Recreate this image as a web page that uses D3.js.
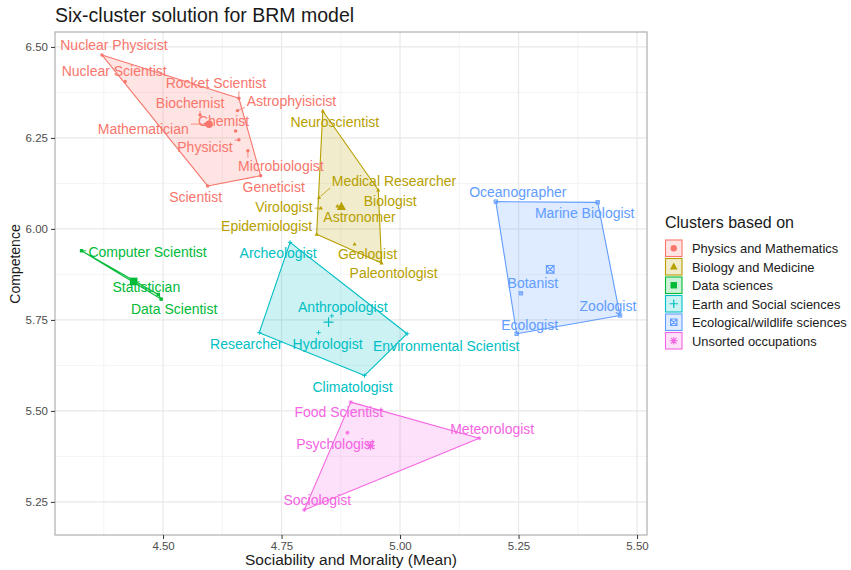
<!DOCTYPE html>
<html>
<head>
<meta charset="utf-8">
<script src="https://cdn.jsdelivr.net/npm/d3@7"></script>
<style>
  body { margin: 0; background: #fff; }
  svg { font-family: "Liberation Sans", Arial, sans-serif; }
</style>
</head>
<body>
<div id="viz"></div>
<script>
// cluster names (legend order)
var clusters = ["Physics and Mathematics", "Biology and Medicine", "Data sciences",
  "Earth and Social sciences", "Ecological/wildlife sciences", "Unsorted occupations"];

// occupations, cluster index, x = sociability & morality, y = competence
var occupations = ["Nuclear Physicist", "Nuclear Scientist", "Rocket Scientist", "Astrophyisicist",
  "Biochemist", "Chemist", "Mathematician", "Physicist", "Microbiologist", "Geneticist", "Scientist",
  "Neuroscientist", "Medical Researcher", "Biologist", "Virologist", "Astronomer", "Epidemiologist",
  "Geologist", "Paleontologist",
  "Computer Scientist", "Statistician", "Data Scientist",
  "Archeologist", "Anthropologist", "Researcher", "Hydrologist", "Environmental Scientist", "Climatologist",
  "Oceanographer", "Marine Biologist", "Botanist", "Zoologist", "Ecologist",
  "Food Scientist", "Meteorologist", "Psychologist", "Sociologist"];
var clusterOf = [0,0,0,0,0,0,0,0,0,0,0, 1,1,1,1,1,1,1,1, 2,2,2, 3,3,3,3,3,3, 4,4,4,4,4, 5,5,5,5];
var sociability = [4.371, 4.420, 4.660, 4.657, 4.578, 4.653, 4.589, 4.660, 4.679, 4.706, 4.594,
  4.837, 4.829, 4.954, 4.833, 4.868, 4.824, 4.904, 4.961,
  4.328, 4.490, 4.496,
  4.768, 4.856, 4.703, 4.828, 5.015, 4.925,
  5.202, 5.417, 5.255, 5.464, 5.246,
  4.896, 5.167, 4.889, 4.798];
var competence = [6.478, 6.405, 6.359, 6.325, 6.313, 6.269, 6.288, 6.245, 6.215, 6.146, 6.118,
  6.324, 6.086, 6.107, 6.057, 6.063, 5.985, 5.958, 5.906,
  5.940, 5.820, 5.807,
  5.963, 5.761, 5.715, 5.715, 5.712, 5.597,
  6.075, 6.073, 5.823, 5.762, 5.712,
  5.524, 5.425, 5.440, 5.228];

var xTicks = [4.50, 4.75, 5.00, 5.25, 5.50];
var yTicks = [5.25, 5.50, 5.75, 6.00, 6.25, 6.50];

// label placement (pixel nudges from the point, like ggrepel result)
var labelNudge = {
  "Nuclear Physicist": [12, -10], "Nuclear Scientist": [-11, -10], "Rocket Scientist": [-23, -15],
  "Astrophyisicist": [54, -10], "Biochemist": [-10, -12], "Chemist": [-12, -10],
  "Mathematician": [-62, 5], "Physicist": [-34, 7], "Microbiologist": [33, 15],
  "Geneticist": [13, 11], "Scientist": [-12, 11],
  "Neuroscientist": [12, 11], "Medical Researcher": [75, -17], "Biologist": [12, 11],
  "Virologist": [-37, -1], "Astronomer": [22, 11], "Epidemiologist": [-50, -8],
  "Geologist": [13, 10], "Paleontologist": [12, 10],
  "Computer Scientist": [66, 1], "Statistician": [-12, -7], "Data Scientist": [13, 10],
  "Archeologist": [-12, 11], "Anthropologist": [11, -9], "Researcher": [-13, 11],
  "Hydrologist": [9, 11], "Environmental Scientist": [39, 12], "Climatologist": [-12, 11],
  "Oceanographer": [22, -10], "Marine Biologist": [-13, 11], "Botanist": [12, -10],
  "Zoologist": [-12, -10], "Ecologist": [13, -9],
  "Food Scientist": [-12, 10], "Meteorologist": [13, -9], "Psychologist": [-12, 11],
  "Sociologist": [13, -10]
};

var colors = ["#F8766D", "#B79F00", "#00BA38", "#00BFC4", "#619CFF", "#F564E3"];

var width = 851, height = 570,
    margin = {top: 32, right: 204, bottom: 35, left: 55};
var pw = width - margin.left - margin.right,
    ph = height - margin.top - margin.bottom;

var svg = d3.select('#viz').append("svg")
  .attr("width", width).attr("height", height);

var g = svg.append("g").attr("transform", `translate(${margin.left},${margin.top})`);

var xScale = d3.scaleLinear().domain([4.272, 5.521]).range([0, pw]);
var yScale = d3.scaleLinear().domain([5.159, 6.541]).range([ph, 0]);

// grid
var xMinor = d3.range(4.375, 5.53, 0.25), yMinor = d3.range(5.375, 6.54, 0.25);
g.selectAll(".xminor").data(xMinor).enter().append("line")
  .attr("x1", d => xScale(d)).attr("x2", d => xScale(d)).attr("y1", 0).attr("y2", ph)
  .attr("stroke", "#f4f4f4").attr("stroke-width", 1);
g.selectAll(".yminor").data(yMinor).enter().append("line")
  .attr("y1", d => yScale(d)).attr("y2", d => yScale(d)).attr("x1", 0).attr("x2", pw)
  .attr("stroke", "#f4f4f4").attr("stroke-width", 1);
g.selectAll(".xmajor").data(xTicks).enter().append("line")
  .attr("x1", d => xScale(d)).attr("x2", d => xScale(d)).attr("y1", 0).attr("y2", ph)
  .attr("stroke", "#e8e8e8").attr("stroke-width", 1.2);
g.selectAll(".ymajor").data(yTicks).enter().append("line")
  .attr("y1", d => yScale(d)).attr("y2", d => yScale(d)).attr("x1", 0).attr("x2", pw)
  .attr("stroke", "#e8e8e8").attr("stroke-width", 1.2);

var points = occupations.map((name, i) => ({
  name: name, c: clusterOf[i], x: sociability[i], y: competence[i],
  px: xScale(sociability[i]), py: yScale(competence[i])
}));

// shapes: circle, triangle, square, plus, square-x, asterisk
function drawShape(sel, k, cx, cy, s, col) {
  if (k === 0) {
    sel.append("circle").attr("cx", cx).attr("cy", cy).attr("r", s).attr("fill", col);
  } else if (k === 1) {
    var h = s * 1.2;
    sel.append("path").attr("d", `M${cx},${cy - h * 1.1}L${cx + h},${cy + h * 0.7}L${cx - h},${cy + h * 0.7}Z`).attr("fill", col);
  } else if (k === 2) {
    sel.append("rect").attr("x", cx - s).attr("y", cy - s).attr("width", 2 * s).attr("height", 2 * s).attr("fill", col);
  } else if (k === 3) {
    var a = s * 1.3;
    sel.append("path").attr("d", `M${cx - a},${cy}H${cx + a}M${cx},${cy - a}V${cy + a}`)
      .attr("stroke", col).attr("stroke-width", s > 3 ? 1.2 : 0.9).attr("fill", "none");
  } else if (k === 4) {
    var b = s;
    sel.append("path").attr("d", `M${cx - b},${cy - b}H${cx + b}V${cy + b}H${cx - b}ZM${cx - b},${cy - b}L${cx + b},${cy + b}M${cx + b},${cy - b}L${cx - b},${cy + b}`)
      .attr("stroke", col).attr("stroke-width", s > 3 ? 1.1 : 0.9).attr("fill", "none");
  } else {
    var c = s * 1.2, d2 = c * 0.72;
    sel.append("path").attr("d", `M${cx - c},${cy}H${cx + c}M${cx},${cy - c}V${cy + c}M${cx - d2},${cy - d2}L${cx + d2},${cy + d2}M${cx + d2},${cy - d2}L${cx - d2},${cy + d2}`)
      .attr("stroke", col).attr("stroke-width", s > 3 ? 1.1 : 0.9).attr("fill", "none");
  }
}

// hulls
clusters.forEach((cn, k) => {
  var pts = points.filter(p => p.c === k).map(p => [p.px, p.py]);
  var hull = d3.polygonHull(pts) || pts;
  g.append("path")
    .attr("d", "M" + hull.join("L") + "Z")
    .attr("fill", colors[k]).attr("fill-opacity", 0.2)
    .attr("stroke", colors[k]).attr("stroke-width", 1.1).attr("stroke-linejoin", "round");
});

// points
var pg = g.append("g");
points.forEach(p => drawShape(pg, p.c, p.px, p.py, 1.7, colors[p.c]));

// centroids
clusters.forEach((cn, k) => {
  var sub = points.filter(p => p.c === k);
  var mx = d3.mean(sub, p => p.x), my = d3.mean(sub, p => p.y);
  drawShape(pg, k, xScale(mx), yScale(my), 3.8, colors[k]);
});

// labels + repel segments
var lg = g.append("g");
points.forEach(p => {
  var nud = labelNudge[p.name] || [10, -10];
  var t = lg.append("text")
    .attr("x", p.px + nud[0]).attr("y", p.py + nud[1])
    .attr("text-anchor", "middle").attr("dominant-baseline", "central")
    .attr("font-size", "14px").attr("fill", colors[p.c]).text(p.name);
  var bb = t.node().getBBox();
  var nx = Math.max(bb.x, Math.min(p.px, bb.x + bb.width)),
      ny = Math.max(bb.y + 2, Math.min(p.py, bb.y + bb.height - 2));
  var dist = Math.hypot(nx - p.px, ny - p.py);
  if (dist > 6) {
    var f = (dist - 2) / dist;
    lg.append("line")
      .attr("x1", p.px + (nx - p.px) * 0.12).attr("y1", p.py + (ny - p.py) * 0.12)
      .attr("x2", p.px + (nx - p.px) * f).attr("y2", p.py + (ny - p.py) * f)
      .attr("stroke", colors[p.c]).attr("stroke-width", 0.8);
  }
});

// panel border
g.append("rect").attr("width", pw).attr("height", ph)
  .attr("fill", "none").attr("stroke", "#b0b0b0").attr("stroke-width", 1.2);

// axes
var xAxis = d3.axisBottom(xScale).tickValues(xTicks).tickFormat(d3.format(".2f")).tickSizeOuter(0).tickSize(4);
var yAxis = d3.axisLeft(yScale).tickValues(yTicks).tickFormat(d3.format(".2f")).tickSizeOuter(0).tickSize(4);
var xa = g.append("g").attr("transform", `translate(0,${ph})`).call(xAxis);
var ya = g.append("g").call(yAxis);
[xa, ya].forEach(a => {
  a.select(".domain").remove();
  a.selectAll(".tick line").attr("stroke", "#333");
  a.selectAll(".tick text").attr("fill", "#4d4d4d").attr("font-size", "11.5px")
    .attr("font-family", "Liberation Sans, Arial, sans-serif");
});

// titles
svg.append("text").attr("x", 55).attr("y", 21.5).attr("font-size", "19.5px").attr("fill", "#1a1a1a")
  .text("Six-cluster solution for BRM model");
svg.append("text").attr("x", margin.left + pw / 2).attr("y", 565).attr("text-anchor", "middle")
  .attr("font-size", "15.5px").attr("fill", "#1a1a1a").text("Sociability and Morality (Mean)");
svg.append("text").attr("transform", `translate(20,264) rotate(-90)`)
  .attr("text-anchor", "middle").attr("font-size", "14px").attr("fill", "#1a1a1a").text("Competence");

// legend
var leg = svg.append("g").attr("transform", "translate(665,0)");
leg.append("text").attr("x", 0).attr("y", 228).attr("font-size", "16px").attr("fill", "#1a1a1a")
  .text("Clusters based on");
clusters.forEach((cn, k) => {
  var y0 = 240 + k * 18.5;
  leg.append("rect").attr("x", 0.5).attr("y", y0).attr("width", 16.5).attr("height", 16.5)
    .attr("fill", colors[k]).attr("fill-opacity", 0.2).attr("stroke", colors[k]).attr("stroke-width", 1.1);
  drawShape(leg, k, 8.75, y0 + 8.25, 3.2, colors[k]);
  leg.append("text").attr("x", 27).attr("y", y0 + 8.5).attr("dominant-baseline", "central")
    .attr("font-size", "12.9px").attr("fill", "#1a1a1a").text(cn);
});
</script>
</body>
</html>
